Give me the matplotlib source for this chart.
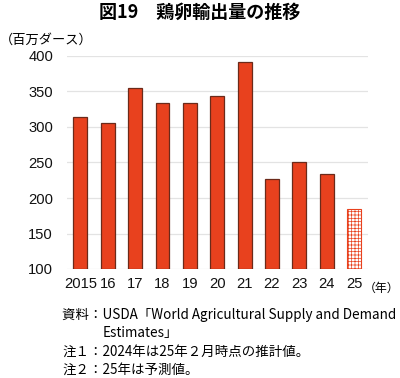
import matplotlib
matplotlib.use("Agg")
import matplotlib.pyplot as plt

plt.rcParams['font.family'] = ['Noto Sans CJK JP', 'DejaVu Sans']
plt.rcParams['hatch.linewidth'] = 0.5

years = ["2015", "16", "17", "18", "19", "20", "21", "22", "23", "24", "25"]
values = [314, 305, 355, 334, 334, 344, 392, 227, 251, 234, 185]
forecast = [False] * 10 + [True]
yticks = [100, 150, 200, 250, 300, 350, 400]

title = "図19　鶏卵輸出量の推移"
ylabel = "（百万ダース）"
xunit = "（年）"
notes = [
    ("資料：USDA「World Agricultural Supply and Demand", 0.155),
    ("Estimates」", 0.257),
    ("注１：2024年は25年２月時点の推計値。", 0.155),
    ("注２：25年は予測値。", 0.155),
]

fig = plt.figure(figsize=(4.0, 3.78), dpi=100)
ax = fig.add_axes([67/400, 1 - 269/378, (368 - 67)/400, (269 - 56)/378])

bar_color = "#E8411E"
edge_color = "#6B2A1A"
for i, (v, f) in enumerate(zip(values, forecast)):
    if f:
        ax.bar(i, v - 100, bottom=100, width=0.51, facecolor="white",
               edgecolor="#E8411E", hatch="+++++", linewidth=0.8, zorder=3)
    else:
        ax.bar(i, v - 100, bottom=100, width=0.51, color=bar_color,
               edgecolor=edge_color, linewidth=0.9, zorder=3)

ax.set_ylim(100, 400)
ax.set_xlim(-0.49, 10.51)
ax.set_yticks(yticks)
ax.set_xticks(range(len(years)))
ax.set_xticklabels(years)
ax.grid(axis="y", color="#E3E3E3", linewidth=0.9, zorder=0)
for s in ax.spines.values():
    s.set_visible(False)
ax.tick_params(axis="both", length=0, labelsize=10.6, colors="#111111")
ax.tick_params(axis="y", pad=10)
ax.tick_params(axis="x", pad=6)
for lab in ax.get_xticklabels() + ax.get_yticklabels():
    lab.set_family(['Liberation Sans', 'DejaVu Sans'])

fig.text(0.5, 1 - 12/378, title, ha="center", va="center", fontsize=13, fontweight="bold")
fig.text(0.0, 1 - 40/378, ylabel, ha="left", va="center", fontsize=9.5)
fig.text(399/400, 1 - 288/378, xunit, ha="right", va="center", fontsize=8.6)

ys = [315, 333, 352, 370]
for (t, x), y in zip(notes, ys):
    fig.text(x, 1 - y/378, t, ha="left", va="center", fontsize=9.7)

fig.savefig("out.png", dpi=100)
